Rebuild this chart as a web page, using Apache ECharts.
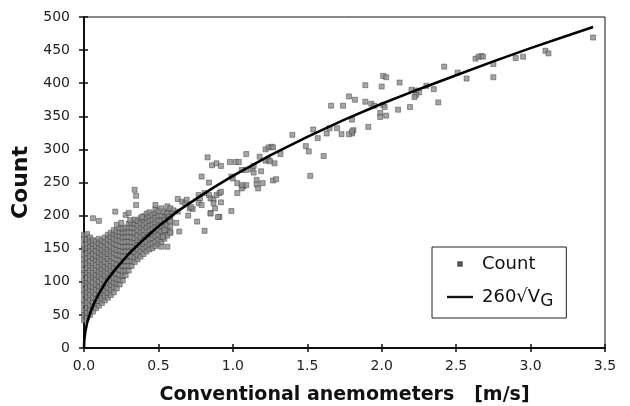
<!DOCTYPE html>
<html>
<head>
<meta charset="utf-8">
<script src="https://cdn.jsdelivr.net/npm/echarts@6/dist/echarts.min.js"></script>
<style>html,body{margin:0;padding:0;background:#fff}#chart{width:630px;height:406px}</style>
</head>
<body>
<div id="chart"></div>
<script>
// ---- data ----
const xTicks = [0.0, 0.5, 1.0, 1.5, 2.0, 2.5, 3.0, 3.5];
const yTicks = [0, 50, 100, 150, 200, 250, 300, 350, 400, 450, 500];

// dense cluster: [x, [y values]]
const clusterColumns = [
  [0.00, [42,50,57,66,72,81,88,97,103,112,118,127,134,141,150,156,165,171]],
  [0.02, [46,53,61,68,77,84,91,99,106,114,121,128,137,143,151,158,164,172]],
  [0.04, [50,58,64,73,80,88,94,103,110,117,125,131,139,147,153,161,167]],
  [0.06, [55,62,70,76,85,92,99,107,113,121,128,136,142,150,157,163]],
  [0.08, [60,67,74,82,88,96,104,110,118,125,133,139,147,154,161]],
  [0.10, [64,71,79,86,93,100,108,115,122,130,137,144,151,158,165]],
  [0.12, [68,75,83,90,97,104,112,119,126,134,141,148,155,162]],
  [0.14, [72,79,87,94,101,109,116,123,130,138,145,152,160,167]],
  [0.16, [76,83,91,98,105,113,120,127,135,142,149,156,164,171]],
  [0.18, [80,88,95,102,110,117,124,131,139,146,153,161,168,174]],
  [0.20, [84,92,99,106,114,121,128,136,143,150,158,165,172,178]],
  [0.22, [90,97,104,112,119,126,134,141,148,156,163,170,176]],
  [0.24, [96,103,110,118,125,132,140,147,154,162,169,175,181]],
  [0.26, [102,109,116,124,131,138,146,153,160,167,174,180]],
  [0.28, [110,117,124,131,139,146,153,160,168,175,182]],
  [0.30, [117,124,131,139,146,153,161,168,175,182,188]],
  [0.32, [124,131,138,146,153,160,167,175,182,189]],
  [0.34, [130,137,145,152,159,166,174,181,188,194]],
  [0.36, [134,141,149,156,163,170,178,185,192]],
  [0.38, [138,146,153,160,167,175,182,189,196]],
  [0.40, [142,150,157,164,171,178,186,193,199]],
  [0.42, [146,153,160,168,175,182,189,196,203]],
  [0.44, [149,156,164,171,178,185,192,199,205]],
  [0.46, [151,158,166,173,180,187,194,201]],
  [0.48, [154,161,169,176,183,190,197,204,210]],
  [0.50, [157,164,171,179,186,193,200,207]],
  [0.52, [160,168,176,184,192,200,211]],
  [0.54, [165,174,181,190,198,206]],
  [0.56, [170,178,186,195,204,214]],
  [0.58, [175,184,192,200]]
];

// scattered points
const sparsePoints = [
  [3.42,469],[2.63,437],[2.65,440],[2.67,441],[2.68,440],[2.75,429],[2.75,409],[2.90,438],[2.95,440],[3.10,449],[3.12,445],
  [2.42,425],[2.51,416],[2.57,407],[2.01,411],[2.03,409],[1.89,397],[2.00,395],[2.12,401],[2.20,390],[2.23,389],[2.25,386],
  [2.23,382],[2.30,396],[2.35,391],[2.22,379],[2.38,371],[1.82,375],[1.89,372],[1.93,369],[1.95,366],[2.01,367],[2.02,364],
  [2.11,360],[2.19,364],[1.99,355],[1.99,349],[2.03,351],[1.80,345],[1.81,329],[1.80,324],[1.91,334],
  [1.78,380],[1.66,366],[1.74,366],[1.65,332],[1.70,332],[1.63,324],[1.73,323],[1.78,323],[1.80,327],[1.54,330],[1.57,317],
  [1.40,322],[1.49,305],[1.51,297],[1.61,290],[1.52,260],[1.32,293],[1.22,300],[1.24,303],[1.26,304],[1.27,303],[1.09,293],
  [1.18,289],[1.22,283],[1.24,284],[1.25,282],[1.28,279],[1.06,269],[1.09,269],[1.13,270],[1.14,275],[1.14,265],[1.19,267],
  [1.07,244],[1.06,241],[1.09,246],[1.16,254],[1.16,247],[1.17,241],[1.20,249],[1.27,253],[1.29,255],
  [0.83,288],[0.86,276],[0.89,279],[0.92,275],[0.98,281],[1.02,281],[1.04,281],[0.79,259],[0.84,250],[0.99,259],[1.00,256],
  [1.03,249],[1.06,246],[1.03,234],
  [0.48,216],[0.63,225],[0.66,221],[0.68,219],[0.69,224],[0.77,231],[0.78,226],[0.77,219],[0.79,216],[0.81,234],[0.84,231],
  [0.85,226],[0.87,224],[0.89,231],[0.91,234],[0.92,236],[0.87,219],[0.92,220],[0.85,204],[0.88,211],[0.91,198],[0.99,207],
  [0.76,191],[0.70,200],[0.81,177],[0.58,211],[0.60,208],[0.59,203],[0.63,206],[0.71,211],[0.73,210],[0.72,213],[0.56,203],
  [0.57,198],[0.54,193],[0.58,191],[0.62,189],[0.64,176],[0.58,174],[0.54,178],[0.53,168],[0.52,153],[0.56,153],
  [0.34,239],[0.35,230],[0.06,196],[0.10,192],[0.21,206],[0.28,201],[0.30,204],[0.35,216],[0.22,186],[0.25,189],[0.31,193],
  [0.39,198],[0.90,198],[0.85,203]
];

// fitted curve 260*sqrt(V_G)
const fitX = [0, 0.002, 0.005, 0.01, 0.02, 0.03, 0.05, 0.075, 0.1, 0.15, 0.2, 0.3, 0.4, 0.5, 0.625, 0.75, 0.875, 1.0, 1.25, 1.5, 1.75, 2.0, 2.25, 2.5, 2.75, 3.0, 3.25, 3.42];
const fitY = [0, 12, 18, 26, 37, 45, 58, 71, 82, 101, 116, 142, 164, 184, 206, 225, 243, 260, 291, 319, 345, 369, 391, 412, 433, 453, 472, 485];

// ---- build ----
const countData = [];
clusterColumns.forEach(([x, ys]) => ys.forEach(y => countData.push([x, y])));
sparsePoints.forEach(p => countData.push(p));
const fitData = fitX.map((x, i) => [x, fitY[i]]);

const chart = echarts.init(document.getElementById('chart'), null, {renderer: 'canvas'});
const tickFont = {fontFamily: 'DejaVu Sans', fontSize: 14, color: '#222'};
const axisCommon = {
  min: 0, splitLine: {show: false}
};
chart.setOption({
  animation: false,
  backgroundColor: '#fff',
  grid: {left: 84, right: 25, top: 17, bottom: 58, containLabel: false, outerBoundsMode: 'none',
    show: true, borderColor: '#111', borderWidth: 1, backgroundColor: 'transparent'},
  xAxis: [
    Object.assign({}, axisCommon, {
      type: 'value', max: 3.5, interval: 0.5,
      axisLine: {show: true, lineStyle: {color: '#111', width: 2}},
      axisTick: {show: true, inside: false, length: 4, lineStyle: {color: '#111', width: 1.5}},
      axisLabel: Object.assign({margin: 11, formatter: v => v.toFixed(1)}, tickFont),
      name: 'Conventional anemometers   [m/s]', nameLocation: 'middle', nameGap: 38,
      nameTextStyle: {fontFamily: 'DejaVu Sans', fontWeight: 'bold', fontSize: 19, color: '#111'}
    }),
    Object.assign({}, axisCommon, {
      type: 'value', max: 3.5, interval: 0.5, position: 'bottom',
      axisLine: {show: false},
      axisTick: {show: true, inside: true, length: 4, lineStyle: {color: '#111', width: 1.5}},
      axisLabel: {show: false}
    })
  ],
  yAxis: [
    Object.assign({}, axisCommon, {
      type: 'value', max: 500, interval: 50,
      axisLine: {show: true, lineStyle: {color: '#111', width: 2}},
      axisTick: {show: true, inside: false, length: 5, lineStyle: {color: '#111', width: 1.5}},
      axisLabel: Object.assign({margin: 14}, tickFont),
      name: 'Count', nameLocation: 'middle', nameGap: 50, nameRotate: 90,
      nameTextStyle: {fontFamily: 'DejaVu Sans', fontWeight: 'bold', fontSize: 22, color: '#111'}
    }),
    Object.assign({}, axisCommon, {
      type: 'value', max: 500, interval: 50, position: 'left',
      axisLine: {show: false},
      axisTick: {show: true, inside: true, length: 4, lineStyle: {color: '#111', width: 1.5}},
      axisLabel: {show: false}
    })
  ],
  legend: {
    orient: 'vertical', left: 432, top: 247,
    padding: [7, 13, 8, 15], itemGap: 14, itemWidth: 26, itemHeight: 18,
    borderColor: '#222', borderWidth: 1, backgroundColor: '#fff',
    textStyle: {fontFamily: 'DejaVu Sans', fontSize: 18, color: '#111', padding: [0, 0, 0, 4],
      rich: {sub: {fontFamily: 'DejaVu Sans', fontSize: 17, color: '#111', padding: [9, 0, 0, 0]}}},
    formatter: n => n === '260√VG' ? '260√V{sub|G}' : n,
    data: [
      {name: 'Count', icon: 'path://M0 0L0 0M20 20L20 20M8 8L12 8L12 12L8 12Z', itemStyle: {color: '#555'}},
      {name: '260√VG', icon: 'path://M0 0L0 0M26 18L26 18M0 7.8L26 7.8L26 10.2L0 10.2Z', itemStyle: {color: '#111'}}
    ]
  },
  series: [
    {
      name: 'Count', type: 'scatter', xAxisIndex: 0, yAxisIndex: 0,
      symbol: 'rect', symbolSize: 5,
      itemStyle: {color: '#8e8e8e', borderColor: '#3a3a3a', borderWidth: 0.6},
      data: countData, z: 2
    },
    {
      name: '260√VG', type: 'line', xAxisIndex: 0, yAxisIndex: 0,
      showSymbol: false, symbol: 'none', smooth: false,
      lineStyle: {color: '#000', width: 2.6},
      itemStyle: {color: '#111'},
      data: fitData, z: 3
    }
  ]
});
</script>
</body>
</html>
